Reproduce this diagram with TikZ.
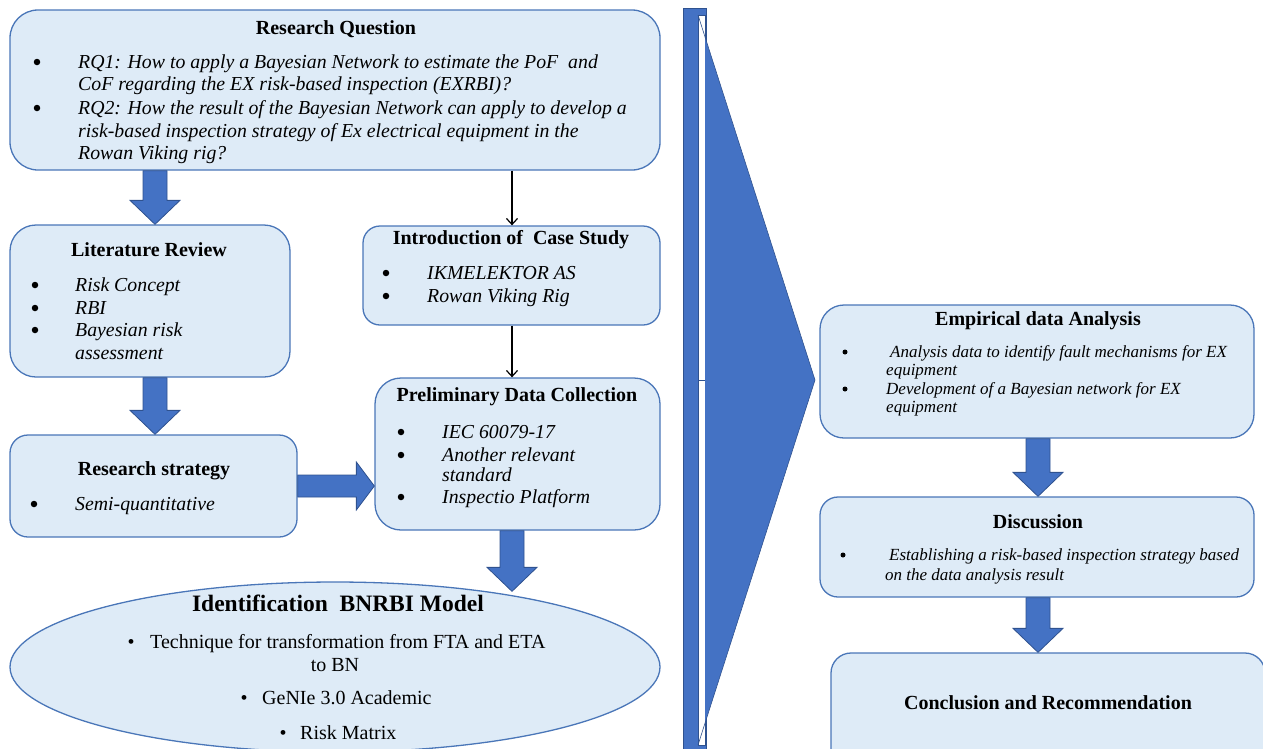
\documentclass[tikz,border=0pt]{standalone}
\usepackage{fontspec}
\setmainfont{Liberation Serif}
\usetikzlibrary{shapes.geometric,arrows.meta,calc}
\definecolor{boxfill}{HTML}{DEEBF7}
\definecolor{boxedge}{HTML}{4A76B8}
\definecolor{arrfill}{HTML}{4472C4}
\definecolor{arredge}{HTML}{2F528F}
\newcommand\blkdown[4]{% #1 x coordinate, #2 from, #3 to, #4 extra tip depth
  \path let \p1=(#1 |- #2), \p2=(#1 |- #3) in
   [blk] (\x1-12pt,\y1) -- (\x1+12pt,\y1) -- (\x1+12pt,\y2+24pt-#4) -- (\x1+25pt,\y2+24pt-#4)
   -- (\x1,\y2-#4) -- (\x1-25pt,\y2+24pt-#4) -- (\x1-12pt,\y2+24pt-#4) -- cycle;}
\begin{document}
\begin{tikzpicture}[x=1pt,y=-1pt,
 box/.style={draw=boxedge, fill=boxfill, line width=1.3pt, inner sep=0pt},
 ttl/.style={font=\fontsize{20}{24}\selectfont\bfseries, anchor=base, inner sep=0pt},
 itl/.style={font=\fontsize{19.8}{22}\selectfont\itshape, anchor=base west, inner sep=0pt},
 bul/.style={circle, fill=black, inner sep=0pt, minimum size=6.5pt, yshift=6pt},
 sitl/.style={font=\fontsize{17}{19}\selectfont\itshape, anchor=base west, inner sep=0pt},
 sbul/.style={circle, fill=black, inner sep=0pt, minimum size=5pt, yshift=5pt},
 rom/.style={font=\fontsize{20}{22}\selectfont, inner sep=0pt},
 thinarrow/.style={draw=black, line width=1.2pt, -{Straight Barb[length=6pt,width=11pt]}},
 blk/.style={fill=arrfill, draw=arredge, line width=0.8pt},
]
\useasboundingbox (0,0) rectangle (1263,748);
\clip (0,0) rectangle (1263,748);

% ---------- boxes ----------
\node[box, rounded corners=28pt, minimum width=650pt, minimum height=160pt] (rq) at (335,90) {};
\node[box, rounded corners=26pt, minimum width=280pt, minimum height=152pt] (lit) at (150,301) {};
\node[box, rounded corners=17pt, minimum width=297pt, minimum height=99pt] (intro) at (511.5,275.5) {};
\node[box, rounded corners=18pt, minimum width=287pt, minimum height=102pt] (strat) at (153.5,486) {};
\node[box, rounded corners=26pt, minimum width=285pt, minimum height=152pt] (prel) at (517.5,454) {};
\node[box, ellipse, minimum width=650pt, minimum height=170pt] (bn) at (335,667) {};
\node[box, rounded corners=24pt, minimum width=434pt, minimum height=133pt] (emp) at (1037,371.5) {};
\node[box, rounded corners=18pt, minimum width=434pt, minimum height=100pt] (disc) at (1037,547) {};
\node[box, rounded corners=20pt, minimum width=434pt, minimum height=122pt] (conc) at (1048,714) {};

% ---------- chevron ----------
\fill[arrfill, draw=arredge, line width=0.6pt] (683,8) rectangle (706,760);
\fill[white, draw=arredge, line width=0.5pt] (698,15) rectangle (705,745);
\draw[arredge, line width=0.5pt] (698,380) -- (705,380);
\fill[arrfill] (705,37) -- (815,380) -- (705,723) -- cycle;
\draw[arredge, line width=0.6pt] (698,15) -- (815,380) -- (698,745);

% ---------- connectors ----------
\coordinate (xa) at (155,0);
\coordinate (xb) at (512,0);
\coordinate (xc) at (1038,0);
\blkdown{xa}{rq.south}{lit.north}{0pt}
\blkdown{xa}{lit.south}{strat.north}{0pt}
\blkdown{xb}{prel.south}{bn.north}{10pt}
\blkdown{xc}{emp.south}{disc.north}{0pt}
\blkdown{xc}{disc.south}{conc.north}{0pt}
\coordinate (ya) at (0,486);
\path let \p1=(strat.east |- ya), \p2=(prel.west |- ya) in
  [blk] (\x1,\y1-11pt) -- (\x2-18pt,\y1-11pt) -- (\x2-18pt,\y1-24pt) -- (\x2,\y1)
  -- (\x2-18pt,\y1+24pt) -- (\x2-18pt,\y1+11pt) -- (\x1,\y1+11pt) -- cycle;
\draw[thinarrow] (xb |- rq.south) -- (xb |- intro.north);
\draw[thinarrow] (xb |- intro.south) -- (xb |- prel.north);

% ---------- Research Question ----------
\node[ttl] (rqt) at (336,34) {Research Question};
\node[bul] (rqb1) at (37,68) {};
\node[itl] (rq1) at (78,68) {RQ1: How to apply a Bayesian Network to estimate the PoF\ \ and};
\node[itl] (rq2) at (78,90) {CoF regarding the EX risk-based inspection (EXRBI)?};
\node[bul] (rqb2) at (37,114) {};
\node[itl] (rq3) at (78,114) {RQ2: How the result of the Bayesian Network can apply to develop a};
\node[itl] (rq4) at (78,137) {risk-based inspection strategy of Ex electrical equipment in the};
\node[itl] (rq5) at (78,159) {Rowan Viking rig?};

% ---------- Literature Review ----------
\node[ttl] (litt) at (149,256) {Literature Review};
\node[bul] (litb1) at (35,291) {};
\node[itl] (lit1) at (75,291) {Risk Concept};
\node[bul] (litb2) at (35,314) {};
\node[itl] (lit2) at (75,314) {RBI};
\node[bul] (litb3) at (35,336) {};
\node[itl] (lit3) at (75,336) {Bayesian risk};
\node[itl] (lit4) at (75,359) {assessment};

% ---------- Introduction of Case Study ----------
\node[ttl] (introt) at (511,244) {Introduction of\ \ Case Study};
\node[bul] (intb1) at (386,279) {};
\node[itl] (int1) at (427,279) {IKMELEKTOR AS};
\node[bul] (intb2) at (386,302) {};
\node[itl] (int2) at (427,302) {Rowan Viking Rig};

% ---------- Research strategy ----------
\node[ttl] (stratt) at (154,475) {Research strategy};
\node[bul] (stb1) at (34,510) {};
\node[itl] (st1) at (75,510) {Semi-quantitative};

% ---------- Preliminary Data Collection ----------
\node[ttl] (prelt) at (517,401) {Preliminary Data Collection};
\node[bul] (prb1) at (401,438) {};
\node[itl] (pr1) at (442,438) {IEC 60079-17};
\node[bul] (prb2) at (401,461) {};
\node[itl] (pr2) at (442,461) {Another relevant};
\node[itl] (pr3) at (442,481) {standard};
\node[bul] (prb3) at (401,503) {};
\node[itl] (pr4) at (442,503) {Inspectio Platform};

% ---------- Identification BNRBI Model ----------
\node[ttl, font=\fontsize{23.5}{27}\selectfont\bfseries] (bnt) at (338,611) {Identification\ \ BNRBI Model};
\node[rom, anchor=base] (bnb1) at (131,648) {•};
\node[rom, anchor=base west] (bn1) at (150,648) {Technique for transformation from FTA and ETA};
\node[rom, anchor=base] (bn2) at (335,671) {to BN};
\node[rom, anchor=base] (bnb2) at (244,704) {•};
\node[rom, anchor=base west] (bn3) at (262,704) {GeNIe 3.0 Academic};
\node[rom, anchor=base] (bnb3) at (283,739) {•};
\node[rom, anchor=base west] (bn4) at (300,739) {Risk Matrix};

% ---------- Empirical data Analysis ----------
\node[ttl] (empt) at (1038,325) {Empirical data Analysis};
\node[sbul] (emb1) at (845,357) {};
\node[sitl] (em1) at (890,357) {Analysis data to identify fault mechanisms for EX};
\node[sitl] (em2) at (886,375) {equipment};
\node[sbul] (emb2) at (845,394) {};
\node[sitl] (em3) at (886,394) {Development of a Bayesian network for EX};
\node[sitl] (em4) at (886,412) {equipment};

% ---------- Discussion ----------
\node[ttl] (disct) at (1038,528) {Discussion};
\node[sbul] (dib1) at (843,560) {};
\node[sitl] (di1) at (889,560) {Establishing a risk-based inspection strategy based};
\node[sitl] (di2) at (885,580) {on the data analysis result};

% ---------- Conclusion ----------
\node[ttl] (conct) at (1048,709) {Conclusion and Recommendation};
\end{tikzpicture}
\end{document}
